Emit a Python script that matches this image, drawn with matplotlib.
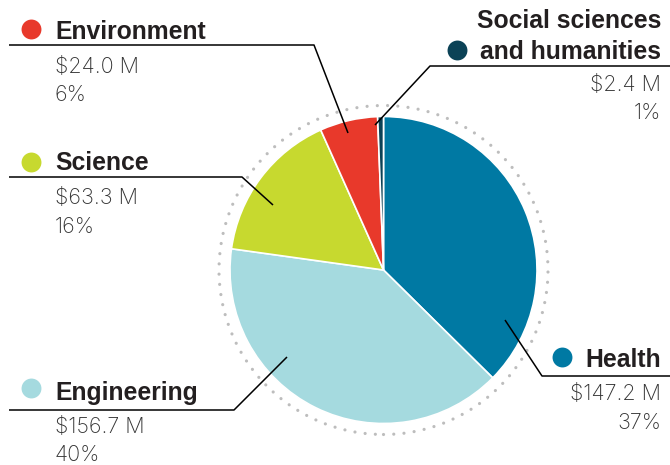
import matplotlib
matplotlib.use("Agg")
import matplotlib.pyplot as plt
from matplotlib.patches import Circle
import numpy as np

# ---- data ----
categories = ["Health", "Engineering", "Science", "Environment", "Social sciences\nand humanities"]
values = [147.2, 156.7, 63.3, 24.0, 2.4]
percents = ["37%", "40%", "16%", "6%", "1%"]
colors = ["#0079A3", "#A5DADF", "#C7D92F", "#E8392B", "#0B4256"]

W, H = 670, 465
def Y(y):
    return H - y

fig = plt.figure(figsize=(6.7, 4.65), dpi=100)
ax = fig.add_axes([0, 0, 1, 1])

cx, cy, R = 383.5, 270, 153.5
ax.pie(values, colors=colors, startangle=90, counterclock=False,
       center=(cx, Y(cy)), radius=R,
       wedgeprops=dict(edgecolor="white", linewidth=1.2))

ring = Circle((cx, Y(cy)), 164.5, fill=False, edgecolor="#BDBDBD",
              linewidth=2.3, linestyle=(0, (0.01, 3.2)))
ring.set_capstyle("round")
ax.add_patch(ring)

ax.set_xlim(0, W)
ax.set_ylim(0, H)
ax.set_aspect("equal")
ax.axis("off")

lab_kw = dict(fontsize=17.8, fontweight="bold", color="#231F20", family=["Liberation Sans", "DejaVu Sans"])
val_kw = dict(fontsize=15.5, fontweight="light", color="#333333", family=["Inter", "DejaVu Sans"])

layout = {
    "Health": dict(dot=(562, 357), tx=661, ha="right", lab=[367], val=400, pct=429,
                   leader=[(670, 376), (542, 376), (505, 320)]),
    "Engineering": dict(dot=(31, 388), tx=55, ha="left", lab=[400], val=433, pct=461,
                        leader=[(9, 410), (234, 410), (287, 357)]),
    "Science": dict(dot=(31, 162), tx=55, ha="left", lab=[170], val=204, pct=233,
                    leader=[(9, 177), (242, 177), (273, 205)]),
    "Environment": dict(dot=(31, 29), tx=55, ha="left", lab=[39], val=73, pct=101,
                        leader=[(9, 45), (314, 45), (348, 133)]),
    "Social sciences\nand humanities": dict(dot=(457, 50), tx=661, ha="right", lab=[28, 59], val=91, pct=119,
                                            leader=[(670, 66), (430, 66), (375, 125)]),
}

for cat, v, p, col in zip(categories, values, percents, colors):
    L = layout[cat]
    ax.scatter([L["dot"][0]], [Y(L["dot"][1])], s=205, color=col, zorder=5, linewidths=0)
    for line, yb in zip(cat.split("\n"), L["lab"]):
        ax.text(L["tx"], Y(yb), line, ha=L["ha"], va="baseline", **lab_kw)
    ax.text(L["tx"], Y(L["val"]), f"${v:.1f} M", ha=L["ha"], va="baseline", **val_kw)
    ax.text(L["tx"], Y(L["pct"]), p, ha=L["ha"], va="baseline", **val_kw)
    xs = [q[0] for q in L["leader"]]
    ys = [Y(q[1]) for q in L["leader"]]
    ax.plot(xs, ys, color="black", linewidth=1.1, zorder=6, solid_capstyle="butt")

fig.savefig("out.png", dpi=100)
